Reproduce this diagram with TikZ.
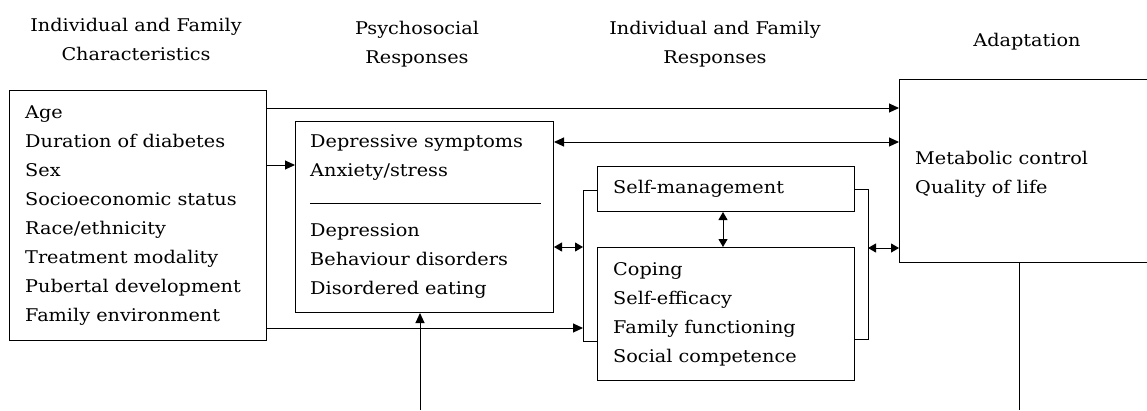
\documentclass[tikz,border=0pt]{standalone}
\usepackage{fontspec}
\setmainfont[FakeStretch=1.1]{DejaVu Serif}
\usetikzlibrary{arrows.meta}
\begin{document}
\begin{tikzpicture}[x=1pt,y=-1pt,
  box/.style={draw, line width=1pt, inner sep=0pt, anchor=north west},
  txt/.style={inner sep=0pt, anchor=north west, align=left, font=\fontsize{17.5}{29}\selectfont},
  head/.style={inner sep=0pt, anchor=north, align=center, font=\fontsize{17.5}{29}\selectfont},
  conn/.style={line width=1pt},
  arr/.style={conn, -{Triangle[length=10pt,width=9pt]}},
  darr/.style={conn, {Triangle[length=10pt,width=9pt]}-{Triangle[length=10pt,width=9pt]}},
  sarr/.style={conn, {Triangle[length=8pt,width=9pt]}-{Triangle[length=8pt,width=9pt]}}]
\useasboundingbox (0,0) rectangle (1147,410);
% headers
\node[head] (h1) at (136,17.7) {Individual and Family\\Characteristics};
\node[head] (h2) at (417,20.7) {Psychosocial\\Responses};
\node[head] (h3) at (715,20.7) {Individual and Family\\Responses};
\node[head] (h4) at (1027,32.7) {Adaptation};
% boxes
\node[box, minimum width=257pt, minimum height=250pt] (b1) at (9,90) {};
\node[box, minimum width=258pt, minimum height=191pt] (b2) at (295,121) {};
\node[box, minimum width=257pt, minimum height=45pt] (b3) at (597,166) {};
\node[box, minimum width=257pt, minimum height=133pt] (b4) at (597,247) {};
\node[box, minimum width=250pt, minimum height=183pt] (b5) at (899,79) {};
% texts
\node[txt] (t1) at (25,105.5) {Age\\Duration of diabetes\\Sex\\Socioeconomic status\\Race/ethnicity\\Treatment modality\\Pubertal development\\Family environment};
\node[txt] (t2a) at (310,134.8) {Depressive symptoms\\Anxiety/stress};
\node[txt] (t2b) at (310,223.7) {Depression\\Behaviour disorders\\Disordered eating};
\draw[conn] (310,203) coordinate (s1) -- (541,203) coordinate (s2);
\node[txt] (t3) at (613,179.7) {Self-management};
\node[txt] (t4) at (613,262) {Coping\\Self-efficacy\\Family functioning\\Social competence};
\node[txt] (t5) at (915,150.5) {Metabolic control\\Quality of life};
% brackets
\coordinate (lbt) at (583,190);
\coordinate (lbb) at (583,341);
\coordinate (rbt) at (868,189);
\coordinate (rbb) at (868,339);
\draw[conn] (b3.west |- lbt) -- (lbt) -- (lbb) -- (b4.west |- lbb);
\draw[conn] (b3.east |- rbt) -- (rbt) -- (rbb) -- (b4.east |- rbb);
% connectors
\draw[arr] (b1.east |- 0,108) -- (b5.west |- 0,108);
\draw[arr] (b1.east |- 0,165) -- (b2.west |- 0,165);
\draw[darr] (b2.east |- 0,142) -- (b5.west |- 0,142);
\draw[sarr] (b2.east |- 0,247) -- (lbt |- 0,247);
\draw[arr] (b1.east |- 0,328) -- (lbt |- 0,328);
\coordinate (bot1) at (420,410);
\draw[arr] (bot1) -- (b2.south -| bot1);
\draw[sarr] (b3.south -| 723,0) -- (b4.north -| 723,0);
\draw[sarr] (rbt |- 0,248) -- (b5.west |- 0,248);
\coordinate (bot2) at (1019,410);
\draw[conn] (b5.south -| bot2) -- (bot2);
\end{tikzpicture}
\end{document}
